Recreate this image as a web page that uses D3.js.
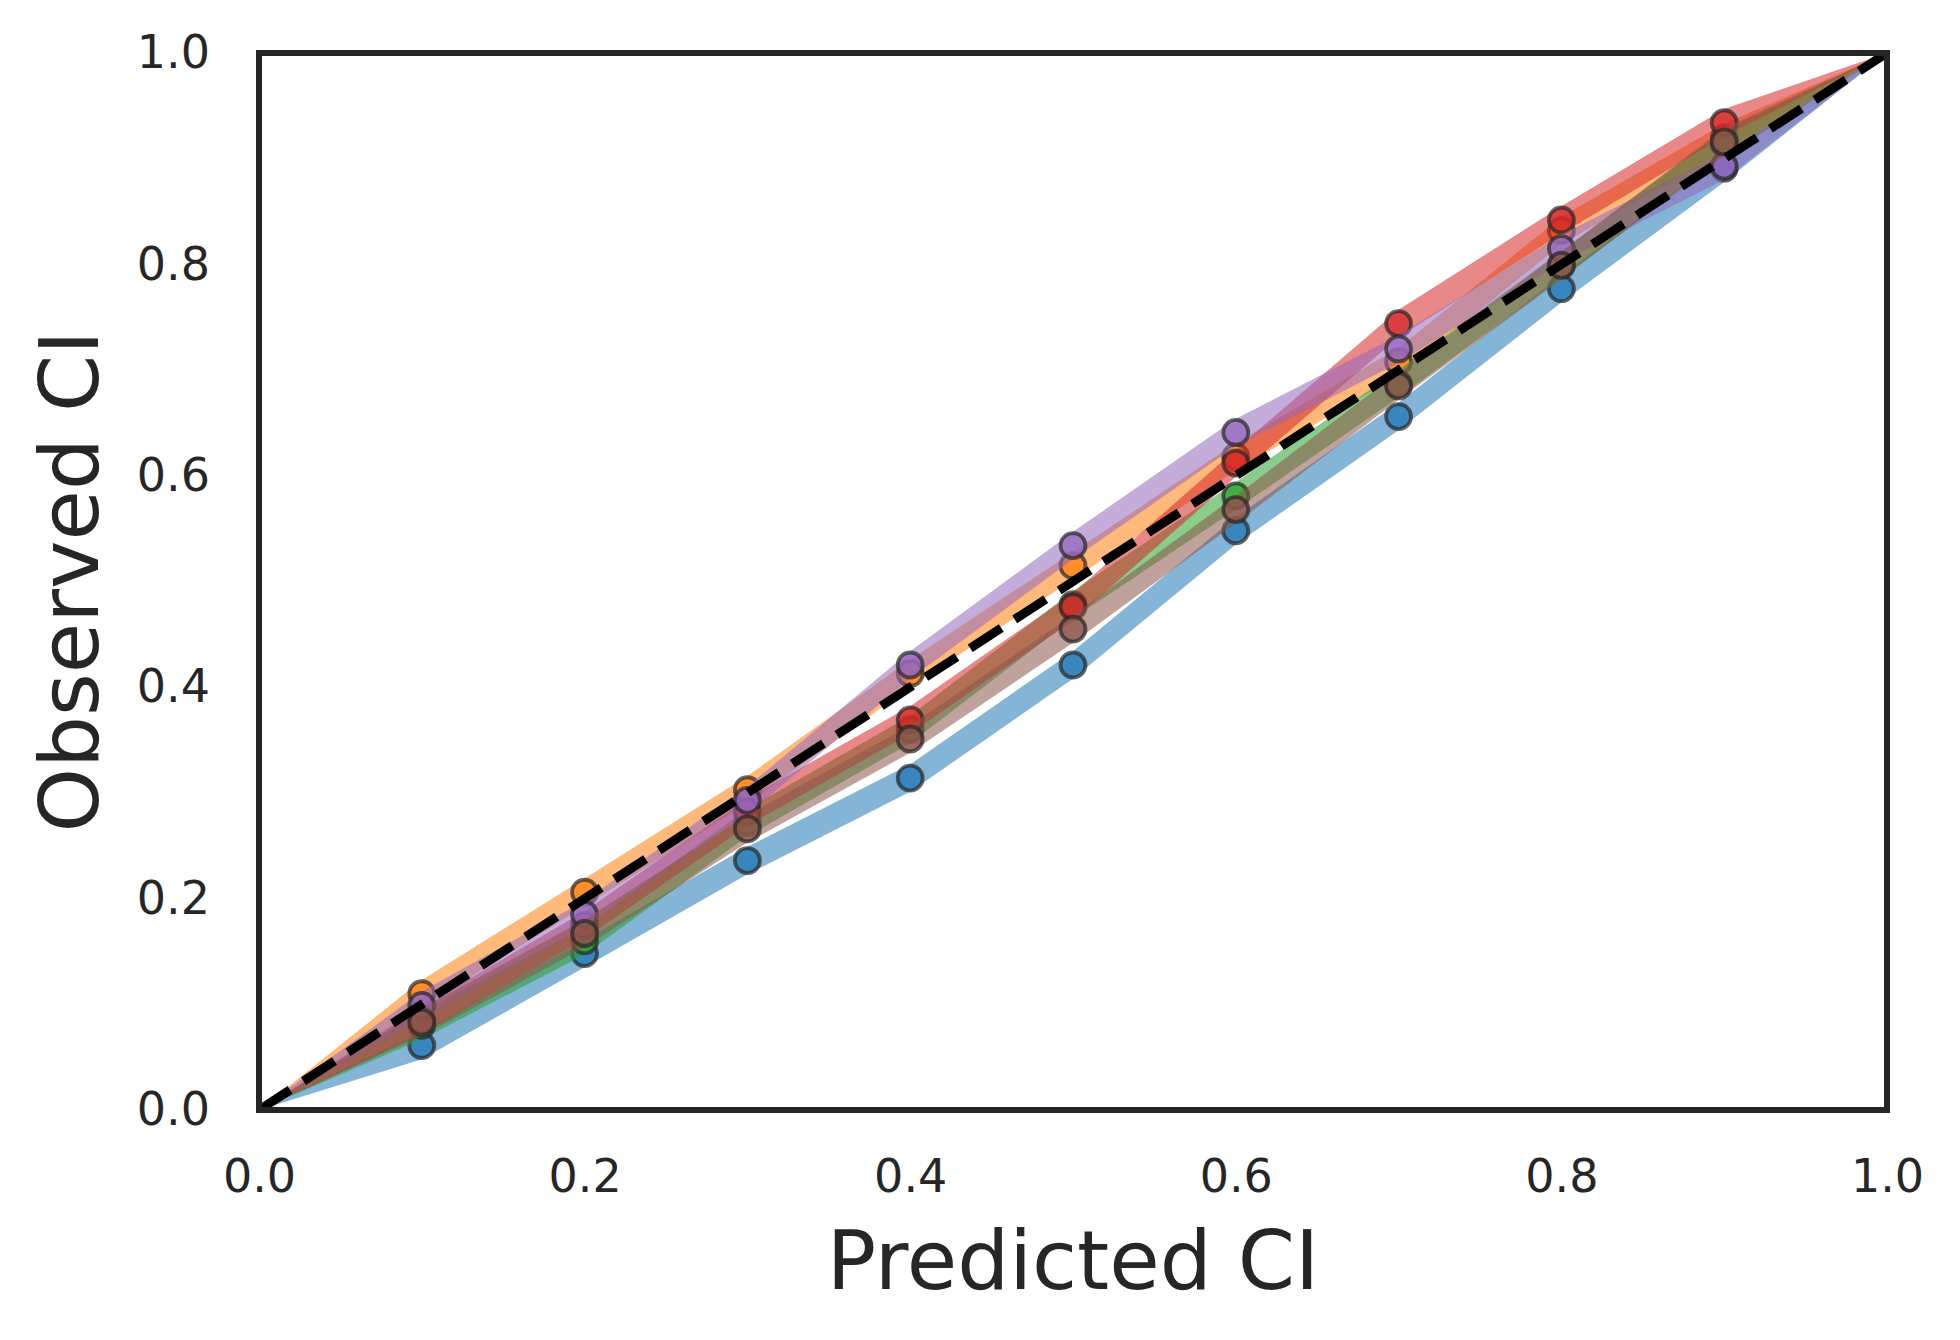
<!DOCTYPE html>
<html>
<head>
<meta charset="utf-8">
<script src="https://cdn.jsdelivr.net/npm/d3@7"></script>
<style>
  body { margin: 0; background: #fff; }
  text { font-family: "DejaVu Sans", sans-serif; fill: #262626; }
</style>
</head>
<body>
<script>
// predicted CI levels
var predicted = [0, 0.1, 0.2, 0.3, 0.4, 0.5, 0.6, 0.7, 0.8, 0.9, 1.0];

// observed CI per model
var blue   = [0, 0.061, 0.148, 0.236, 0.314, 0.421, 0.548, 0.656, 0.777, 0.891, 1];
var orange = [0, 0.110, 0.206, 0.303, 0.413, 0.515, 0.618, 0.708, 0.832, 0.920, 1];
var green  = [0, 0.080, 0.160, 0.272, 0.360, 0.478, 0.581, 0.687, 0.800, 0.914, 1];
var red    = [0, 0.085, 0.175, 0.282, 0.369, 0.476, 0.612, 0.744, 0.842, 0.934, 1];
var purple = [0, 0.099, 0.185, 0.293, 0.421, 0.534, 0.641, 0.720, 0.815, 0.893, 1];
var brown  = [0, 0.083, 0.167, 0.266, 0.351, 0.455, 0.568, 0.685, 0.799, 0.916, 1];

// half width of the shaded band around each curve
var spread = [0, 0.013, 0.013, 0.013, 0.013, 0.013, 0.013, 0.013, 0.013, 0.013, 0];

var tickValues = [0, 0.2, 0.4, 0.6, 0.8, 1.0];

var series = [
  {name: "blue",   values: blue,   color: "#1f77b4"},
  {name: "orange", values: orange, color: "#ff7f0e"},
  {name: "green",  values: green,  color: "#2ca02c"},
  {name: "red",    values: red,    color: "#d62728"},
  {name: "purple", values: purple, color: "#9467bd"},
  {name: "brown",  values: brown,  color: "#8c564b"}
];

var width = 1960, height = 1340;
var margin = {top: 53, right: 73, bottom: 230, left: 259};
var w = width - margin.left - margin.right;
var h = height - margin.top - margin.bottom;

var svg = d3.select("body")
            .append("svg")
            .attr("width", width)
            .attr("height", height);

var g = svg.append("g")
           .attr("transform", "translate(" + margin.left + "," + margin.top + ")");

var x = d3.scaleLinear().domain([0, 1]).range([0, w]);
var y = d3.scaleLinear().domain([0, 1]).range([h, 0]);

g.append("clipPath")
 .attr("id", "plot-clip")
 .append("rect")
 .attr("width", w)
 .attr("height", h);

var plot = g.append("g").attr("clip-path", "url(#plot-clip)");

var band = d3.area()
    .x(function(d, i) { return x(predicted[i]); })
    .y0(function(d, i) { return y(d - spread[i]); })
    .y1(function(d, i) { return y(d + spread[i]); });

series.forEach(function(s) {
    plot.append("path")
        .datum(s.values)
        .attr("d", band)
        .attr("fill", s.color)
        .attr("fill-opacity", 0.55)
        .attr("stroke", "none");

    plot.selectAll("circle." + s.name)
        .data(s.values.slice(1, -1))
        .enter()
        .append("circle")
        .attr("class", s.name)
        .attr("cx", function(d, i) { return x(predicted[i + 1]); })
        .attr("cy", function(d) { return y(d); })
        .attr("r", 12.5)
        .attr("fill", s.color)
        .attr("fill-opacity", 0.75)
        .attr("stroke", "#262626")
        .attr("stroke-opacity", 0.7)
        .attr("stroke-width", 3.8);
});

// perfect calibration line
plot.append("line")
    .attr("x1", x(0)).attr("y1", y(0))
    .attr("x2", x(1)).attr("y2", y(1))
    .attr("stroke", "#000")
    .attr("stroke-width", 9)
    .attr("stroke-dasharray", "37,16");

var xAxis = d3.axisBottom(x)
    .tickValues(tickValues)
    .tickSize(0)
    .tickPadding(49)
    .tickFormat(d3.format(".1f"));

var yAxis = d3.axisLeft(y)
    .tickValues(tickValues)
    .tickSize(0)
    .tickPadding(49)
    .tickFormat(d3.format(".1f"));

var gx = g.append("g")
    .attr("transform", "translate(0," + h + ")")
    .call(xAxis);
var gy = g.append("g").call(yAxis);

[gx, gy].forEach(function(a) {
    a.select(".domain").remove();
    a.selectAll("text")
     .attr("font-family", "DejaVu Sans")
     .attr("font-size", "46px")
     .attr("fill", "#262626");
});

// frame
g.append("rect")
 .attr("width", w)
 .attr("height", h)
 .attr("fill", "none")
 .attr("stroke", "#262626")
 .attr("stroke-width", 6);

svg.append("text")
   .attr("x", margin.left + w / 2)
   .attr("y", 1289)
   .attr("text-anchor", "middle")
   .attr("font-size", "82px")
   .text("Predicted CI");

svg.append("text")
   .attr("transform", "translate(98," + (margin.top + h / 2) + ") rotate(-90)")
   .attr("text-anchor", "middle")
   .attr("font-size", "82px")
   .text("Observed CI");
</script>
</body>
</html>
